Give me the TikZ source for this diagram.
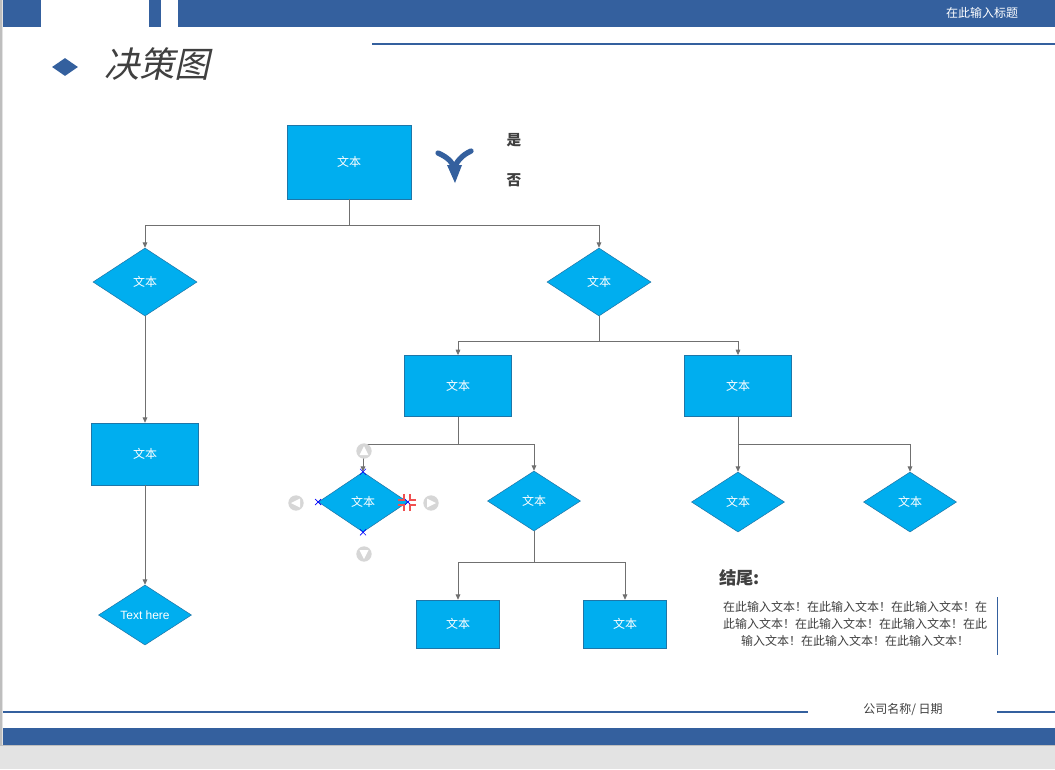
\documentclass[tikz,border=0pt]{standalone}
\usepackage{fontspec}
\usepackage{xcolor}
\usepackage{tikz}
\usetikzlibrary{arrows.meta,positioning,shapes.geometric,calc}
\setmainfont{Noto Sans CJK SC}
\newfontfamily\titlefont[FakeSlant=0.22]{Noto Sans CJK SC}
\newfontfamily\latinfont{Liberation Sans}
\definecolor{primary}{RGB}{52,96,158}
\definecolor{boxfill}{RGB}{0,174,239}
\definecolor{boxline}{RGB}{30,118,168}
\definecolor{linkgray}{RGB}{112,112,112}
\definecolor{textgray}{RGB}{64,64,64}
\definecolor{pagegray}{RGB}{227,227,227}
\definecolor{edgegray}{RGB}{190,190,190}
\definecolor{handlegray}{RGB}{214,214,214}
\definecolor{markred}{RGB}{240,80,80}

\begin{document}
\begin{tikzpicture}[x=0.75pt,y=-0.75pt,
  box/.style={rectangle, fill=boxfill, draw=boxline, line width=0.4pt,
    text=white, font=\fontsize{9}{10}\selectfont, inner sep=0pt},
  decision/.style={diamond, fill=boxfill, draw=boxline, line width=0.4pt,
    text=white, font=\fontsize{9}{10}\selectfont, inner sep=0pt},
  link/.style={draw=linkgray, line width=0.6pt},
  arrowlink/.style={link, -{Triangle[length=4pt,width=3.5pt]}},
  handle/.style={circle, fill=handlegray, minimum size=11.5pt, inner sep=0pt}]
  \useasboundingbox (0,0) rectangle (1055,769);
  \fill[pagegray] (0,0) rectangle (1055,769);
  \fill[white] (3,0) rectangle (1055,745);
  \fill[edgegray] (0,0) rectangle (2,745);
  \draw[edgegray, line width=1pt] (0,745.5) -- (1055,745.5);

  \fill[primary] (3,0) rectangle (41,27);
  \fill[primary] (149,0) rectangle (161,27);
  \fill[primary] (178,0) rectangle (1055,27);
  \draw[primary, line width=0.8pt] (372,44) -- (1055,44);
  \node[text=white, font=\fontsize{9}{10}\selectfont] (headline) at (982,13) {在此输入标题};

  \node[diamond, fill=primary, minimum width=19.5pt, minimum height=13.5pt,
        inner sep=0pt] (bullet) at (65,67) {};
  \node[anchor=west, inner sep=0pt, text=textgray,
        font=\titlefont\fontsize{26.5}{28}\selectfont] (title) at (104,64) {决策图};

  \draw[primary, line width=4pt, line cap=round]
    (438,153) .. controls (447,157) and (453,162) .. (454,169);
  \draw[primary, line width=4pt, line cap=round]
    (471,151) .. controls (462,155) and (456,162) .. (454,169);
  \fill[primary] (447,165) -- (462,165) -- (455,183) -- cycle;
  \node[text=textgray, font=\bfseries\fontsize{11}{12}\selectfont] (yes) at (514,140) {是};
  \node[text=textgray, font=\bfseries\fontsize{11}{12}\selectfont] (no) at (514,180) {否};

  \node[box, minimum width=93pt, minimum height=55.5pt] (top) at (349,162) {文本};
  \node[decision, minimum width=78pt, minimum height=51pt] (dec1) at (145,282) {文本};
  \node[decision, minimum width=78pt, minimum height=51pt] (dec2) at (599,282) {文本};
  \node[box, minimum width=80.25pt, minimum height=46.5pt] (box2) at (145,454) {文本};
  \node[decision, minimum width=69.75pt, minimum height=45pt,
        font=\latinfont\fontsize{9}{10}\selectfont] (dec3) at (145,615) {Text here};
  \node[box, minimum width=80.25pt, minimum height=46pt] (boxM) at (458,386) {文本};
  \node[box, minimum width=80.25pt, minimum height=46pt] (boxN) at (738,386) {文本};
  \node[decision, minimum width=67pt, minimum height=45pt] (decA) at (363,502) {文本};
  \node[decision, minimum width=69.75pt, minimum height=45pt] (decB) at (534,501) {文本};
  \node[decision, minimum width=69.75pt, minimum height=45pt] (decE) at (738,502) {文本};
  \node[decision, minimum width=69.75pt, minimum height=45pt] (decF) at (910,502) {文本};
  \node[box, minimum width=62.25pt, minimum height=36pt] (boxC) at (458,624) {文本};
  \node[box, minimum width=62.25pt, minimum height=36pt] (boxD) at (625,624) {文本};

  \coordinate (split1) at (349,225);
  \coordinate (split2) at (599,341);
  \coordinate (split3) at (458,444);
  \coordinate (split4) at (534,562);
  \coordinate (split5) at (738,444);
  \draw[link] (top.south) -- (split1);
  \draw[arrowlink] (split1) -| (dec1.north);
  \draw[arrowlink] (split1) -| (dec2.north);
  \draw[arrowlink] (dec1.south) -- (box2.north);
  \draw[arrowlink] (box2.south) -- (dec3.north);
  \draw[link] (dec2.south) -- (split2);
  \draw[arrowlink] (split2) -| (boxM.north);
  \draw[arrowlink] (split2) -| (boxN.north);
  \draw[link] (boxM.south) -- (split3);
  \draw[arrowlink] (split3) -| (decA.north);
  \draw[arrowlink] (split3) -| (decB.north);
  \draw[link] (decB.south) -- (split4);
  \draw[arrowlink] (split4) -| (boxC.north);
  \draw[arrowlink] (split4) -| (boxD.north);
  \draw[link] (boxN.south) -- (split5);
  \draw[arrowlink] (split5) -| (decE.north);
  \draw[arrowlink] (split5) -| (decF.north);

  \node[handle] (hup) at (364,451) {};
  \node[handle] (hdown) at (364,554) {};
  \node[handle] (hleft) at (296,503) {};
  \node[handle] (hright) at (431,503) {};
  \fill[white] (364,446) -- (368.5,455) -- (359.5,455) -- cycle;
  \fill[white] (364,559) -- (368.5,550) -- (359.5,550) -- cycle;
  \fill[white] (291,503) -- (300,498.5) -- (300,507.5) -- cycle;
  \fill[white] (436,503) -- (427,498.5) -- (427,507.5) -- cycle;
  \foreach \a in {north,south,west,east}
    \draw[blue, line width=0.5pt] ($(decA.\a)+(-3,-3)$) -- ++(6,6)
      ($(decA.\a)+(-3,3)$) -- ++(6,-6);
  \draw[markred, line width=1pt] (404,494) -- (404,500) -- (398,500)
    (410,494) -- (410,500) -- (416,500)
    (404,511) -- (404,505) -- (398,505)
    (410,511) -- (410,505) -- (416,505);

  \node[anchor=west, inner sep=0pt, text=textgray,
        font=\bfseries\fontsize{13}{14}\selectfont] (ending) at (719,578) {结尾:};
  \node[align=center, inner sep=0pt, text=textgray,
        font=\fontsize{9}{12.75}\selectfont] (summary) at (855,624)
    {在此输入文本！在此输入文本！在此输入文本！在\\
     此输入文本！在此输入文本！在此输入文本！在此\\
     输入文本！在此输入文本！在此输入文本！};
  \draw[primary, line width=0.6pt] (997,597) -- (997,655);

  \draw[primary, line width=0.8pt] (3,712) -- (808,712);
  \draw[primary, line width=0.8pt] (997,712) -- (1055,712);
  \node[text=textgray, font=\fontsize{9}{10}\selectfont] (footer) at (903,709) {公司名称/ 日期};
  \fill[primary] (3,728) rectangle (1055,745);
\end{tikzpicture}
\end{document}
